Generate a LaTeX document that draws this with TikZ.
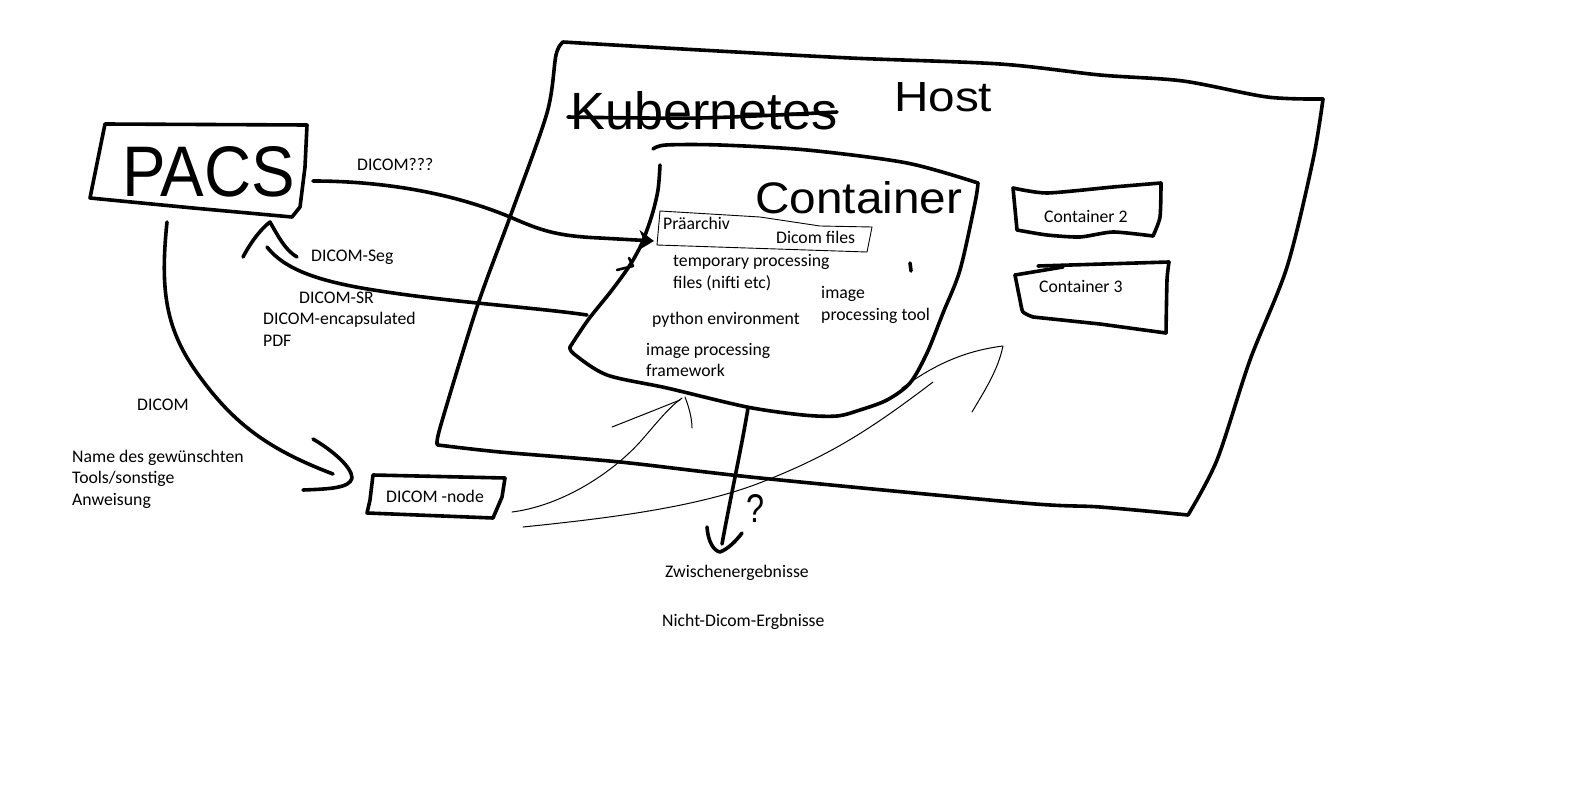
\documentclass[tikz,border=0pt]{standalone}
\usepackage{fontspec}
\setmainfont{Carlito}
\newfontfamily\handfont{Liberation Sans}
\usetikzlibrary{arrows.meta}
\begin{document}
\begin{tikzpicture}[x=1pt,y=-1pt,
  pen/.style={line width=3.6pt,line cap=round,line join=round},
  thinpen/.style={line width=1pt,line cap=round,line join=round},
  hairbox/.style={line width=0.9pt,line join=miter},
  lbl/.style={font=\fontsize{17.7}{22}\selectfont,inner sep=0pt,anchor=base west,text=black},
  hand/.style={inner sep=0pt,anchor=base west,font=\handfont,text=black}]
\fill[white] (0,0) rectangle (1576,789);
\useasboundingbox (0,0) rectangle (1576,789);

% ---------------- Host outline
\draw[pen] plot[smooth,tension=0.5] coordinates {(563,42) (700,50) (850,58) (1000,64) (1100,75) (1183,81) (1267,97) (1323,99)};
\draw[pen] plot[smooth,tension=0.5] coordinates {(1323,99) (1313,160) (1287,267) (1250,360) (1217,460) (1188,515)};
\draw[pen] plot[smooth,tension=0.5] coordinates {(1188,515) (1100,507) (1023,503) (760,478) (620,462) (500,452) (438,445)};
\draw[pen] plot[smooth,tension=0.5] coordinates {(438,445) (440,428) (477,307) (510,217) (547,113) (556,55) (563,42)};

\node[hand] (kube) at (570,130) {\resizebox{267pt}{38pt}{Kubernetes}};
\draw[pen] plot[smooth,tension=0.5] coordinates {(568,117) (700,118) (837,112)};
\node[hand] (host) at (894,112) {\resizebox{98pt}{29pt}{Host}};

% ---------------- Container outline
\draw[pen] plot[smooth,tension=0.5] coordinates {(653,149) (666,145) (720,145) (807,150) (907,163) (978,183)};
\draw[pen] plot[smooth,tension=0.5] coordinates {(978,183) (975,203) (960,270) (943,313) (927,353) (910,383) (887,400) (860,410) (837,416) (803,415) (747,407) (667,388) (607,375) (574,354) (570,347)};
\draw[pen] plot[smooth,tension=0.5] coordinates {(570,347) (588,320) (612,290) (630,265) (642,243) (652,215) (658,190) (660,165)};
\node[hand] (cont) at (755,213) {\resizebox{207pt}{32pt}{Container}};
\draw[pen] (910,263) -- (911,271);

% Praearchiv thin box
\draw[hairbox] (660,211) -- (760,217) -- (800,223) -- (820,226) -- (872,227) -- (867,252) -- (657,245) -- cycle;
\node[lbl] (prae) at (663,229) {Präarchiv};
\node[lbl] (dcmf) at (776,243) {Dicom files};
\node[lbl] (tmpA) at (673,266) {temporary processing};
\node[lbl] (tmpB) at (673,288) {files (nifti etc)};
\node[lbl] (toolA) at (821,298) {image};
\node[lbl] (toolB) at (821,320) {processing tool};
\node[lbl] (py) at (652,324) {python environment};
\node[lbl] (fwA) at (646,355) {image processing};
\node[lbl] (fwB) at (646,376) {framework};

% small mark on container edge
\draw[pen,line width=2.6pt] (617,270) -- (633,266) -- (629,258);

% ---------------- Container 2 / 3
\draw[pen] plot[smooth,tension=0.4] coordinates {(1013,188) (1047,193) (1113,187) (1161,183)};
\draw[pen] plot[smooth,tension=0.4] coordinates {(1161,183) (1160,217) (1153,236)};
\draw[pen] plot[smooth,tension=0.4] coordinates {(1153,236) (1113,232) (1080,237) (1047,235) (1017,230)};
\draw[pen] (1017,230) -- (1013,188);
\node[lbl] (c2) at (1044,222) {Container 2};

\draw[pen] (1038,266) -- (1169,262);
\draw[pen] (1015,275) -- (1063,267);
\draw[pen] plot[smooth,tension=0.4] coordinates {(1015,275) (1020,300) (1023,312) (1033,317)};
\draw[pen] (1033,317) -- (1100,324) -- (1166,333);
\draw[pen] plot[smooth,tension=0.4] coordinates {(1166,333) (1167,280) (1169,262)};
\node[lbl] (c3) at (1039,292) {Container 3};

% ---------------- PACS
\draw[pen] (105,124) -- (307,125) -- (305,167) -- (300,207) -- (292,217) -- (193,208) -- (90,198) -- cycle;
\node[hand] (pacs) at (122,196) {\resizebox{173pt}{50pt}{PACS}};

% ---------------- DICOM-node
\draw[pen] (373,475) -- (505,478) -- (502,497) -- (493,518) -- (367,513) -- (370,500) -- cycle;
\node[lbl] (dnode) at (386,502) {DICOM -node};

% ---------------- connector coordinates
\coordinate (pacsE) at (313,181);
\coordinate (praeW) at (654,241);
\coordinate (contW) at (587,315);
\coordinate (pacsB) at (267,247);
\coordinate (pacsS) at (167,222);
\coordinate (dnodeW) at (333,474);
\coordinate (contS) at (748,408);
\coordinate (resN) at (722,544);

% DICOM??? arrow PACS -> Praearchiv
\draw[pen,-{Stealth[length=15pt,width=20pt]}] (pacsE) .. controls (380,181) and (450,192) .. (510,217)
  .. controls (540,230) and (555,236) .. (600,238) -- (praeW);
\node[lbl] (l1) at (357,170) {DICOM???};

% return arrow Container -> PACS
\draw[pen] (contW) .. controls (540,308) and (450,302) .. (380,291)
  .. controls (320,282) and (285,270) .. (pacsB);
\draw[pen] (243,257) .. controls (252,240) and (262,228) .. (270,222)
  .. controls (278,236) and (285,250) .. (297,257);
\node[lbl] (l2) at (311,261) {DICOM-Seg};
\node[lbl] (l3) at (299,303) {DICOM-SR};
\node[lbl] (l4) at (263,324) {DICOM-encapsulated};
\node[lbl] (l5) at (263,346) {PDF};

% PACS -> DICOM-node
\draw[pen] (pacsS) .. controls (160,290) and (165,330) .. (200,377)
  .. controls (235,425) and (270,450) .. (dnodeW);
\draw[pen] (313,439) .. controls (335,452) and (352,468) .. (352,478)
  .. controls (350,488) and (330,489) .. (303,490);
\node[lbl] (l6) at (137,410) {DICOM};
\node[lbl] (l7a) at (72,462) {Name des gewünschten};
\node[lbl] (l7b) at (72,483.5) {Tools/sonstige};
\node[lbl] (l7c) at (72,505) {Anweisung};

% Container -> results
\draw[pen] (contS) .. controls (742,445) and (730,500) .. (resN);
\draw[pen] (707,527) .. controls (708,542) and (714,551) .. (720,552)
  .. controls (728,549) and (736,541) .. (742,533);
\node[hand] (q) at (746,522) {\resizebox{18pt}{28pt}{?}};
\node[lbl] (l8) at (665,577) {Zwischenergebnisse};
\node[lbl] (l9) at (662,626) {Nicht-Dicom-Ergbnisse};

% thin arrows from DICOM-node
\coordinate (dnodeE1) at (512,512);
\coordinate (dnodeE2) at (523,527);
\coordinate (contB) at (682,398);
\draw[thinpen] (dnodeE1) .. controls (560,506) and (610,475) .. (640,442) .. controls (655,425) and (668,408) .. (contB);
\draw[thinpen] (612,427) .. controls (640,416) and (660,408) .. (680,400);
\draw[thinpen] (685,397) .. controls (690,410) and (692,420) .. (692,428);
\draw[thinpen] (dnodeE2) .. controls (600,519) and (700,508) .. (767,480)
  .. controls (830,455) and (870,430) .. (933,382);
\draw[thinpen] (902,388) .. controls (925,372) and (955,352) .. (1003,346)
  .. controls (998,370) and (985,390) .. (972,412);
\end{tikzpicture}
\end{document}
